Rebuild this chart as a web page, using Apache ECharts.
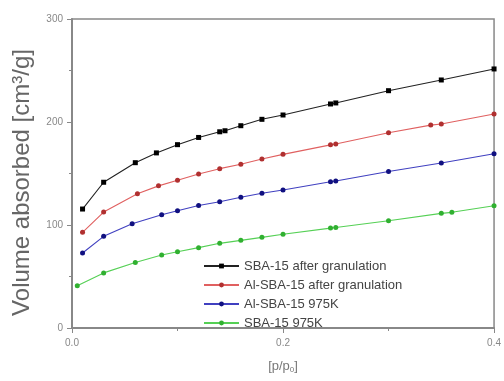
<!DOCTYPE html>
<html>
<head>
<meta charset="utf-8">
<script src="https://cdn.jsdelivr.net/npm/echarts@6/dist/echarts.min.js"></script>
<style>
  html, body { margin: 0; padding: 0; background: #fff; }
  #chart { width: 504px; height: 381px; }
</style>
</head>
<body>
<div id="chart"></div>
<script>
// relative pressure p/p0 and adsorbed volume per sample
var xBlack = [0.01, 0.03, 0.06, 0.08, 0.10, 0.12, 0.14, 0.145, 0.16, 0.18, 0.20, 0.245, 0.25, 0.30, 0.35, 0.40];
var yBlack = [115.5, 141.5, 160.5, 170, 178, 185, 190.5, 191.5, 196.4, 202.6, 206.8, 217.5, 218.5, 230.4, 240.8, 251.5];

var xRed = [0.01, 0.03, 0.062, 0.082, 0.10, 0.12, 0.14, 0.16, 0.18, 0.20, 0.245, 0.25, 0.30, 0.34, 0.35, 0.40];
var yRed = [92.9, 112.6, 130.4, 138, 143.4, 149.5, 154.7, 159, 164, 168.6, 177.8, 178.6, 189.6, 197, 198, 207.8];

var xBlue = [0.01, 0.03, 0.057, 0.085, 0.10, 0.12, 0.14, 0.16, 0.18, 0.20, 0.245, 0.25, 0.30, 0.35, 0.40];
var yBlue = [72.8, 89, 101.3, 110, 113.9, 119, 122.6, 126.9, 130.8, 134, 142, 142.7, 152, 160.2, 169.2];

var xGreen = [0.005, 0.03, 0.06, 0.085, 0.10, 0.12, 0.14, 0.16, 0.18, 0.20, 0.245, 0.25, 0.30, 0.35, 0.36, 0.40];
var yGreen = [41, 53.5, 63.5, 70.8, 74.1, 78, 82.2, 85.1, 88, 91, 97, 97.6, 104.2, 111.3, 112.3, 118.7];

var names = ['SBA-15 after granulation', 'Al-SBA-15 after granulation', 'Al-SBA-15 975K', 'SBA-15 975K'];

function pairs(xs, ys) {
  var out = [];
  for (var i = 0; i < xs.length; i++) out.push([xs[i], ys[i]]);
  return out;
}

function mkSeries(name, xs, ys, lineColor, dotColor, symbol) {
  return {
    name: name,
    type: 'line',
    data: pairs(xs, ys),
    symbol: symbol,
    symbolSize: 5,
    showSymbol: true,
    lineStyle: { color: lineColor, width: 1.1 },
    itemStyle: { color: dotColor },
    emphasis: { disabled: true },
    animation: false
  };
}

var chart = echarts.init(document.getElementById('chart'));
var axisGray = '#888';
var option = {
  animation: false,
  grid: {
    left: 72, right: 9, top: 19, bottom: 53,
    show: true, borderColor: axisGray, borderWidth: 1.5
  },
  legend: {
    orient: 'vertical',
    left: 198, top: 254,
    itemWidth: 35, itemHeight: 6, itemGap: 5,
    textStyle: { fontFamily: 'Liberation Sans', fontSize: 13, color: '#444', lineHeight: 14 },
    data: names
  },
  xAxis: {
    type: 'value', min: 0, max: 0.4, interval: 0.2,
    name: '[p/p{s|0}]', nameLocation: 'middle', nameGap: 31,
    nameTextStyle: {
      fontFamily: 'Liberation Sans', fontSize: 13, color: '#777',
      rich: { s: { fontSize: 8, verticalAlign: 'bottom', padding: [7, 0, 0, 0], color: '#777' } }
    },
    axisLine: { lineStyle: { color: axisGray, width: 2 } },
    axisTick: { length: 5, lineStyle: { color: axisGray } },
    minorTick: { show: true, splitNumber: 2, length: 3, lineStyle: { color: axisGray } },
    axisLabel: { margin: 10, fontFamily: 'Liberation Sans', fontSize: 10, color: '#888',
      formatter: function (v) { return v.toFixed(1); } },
    splitLine: { show: false }
  },
  yAxis: {
    type: 'value', min: 0, max: 300, interval: 100,
    name: 'Volume absorbed [cm³/g]', nameLocation: 'middle', nameGap: 38,
    nameTextStyle: { fontFamily: 'Liberation Sans', fontSize: 24, color: '#666', padding: [0, 18, 0, 0] },
    axisLine: { lineStyle: { color: axisGray, width: 2 } },
    axisTick: { length: 5, lineStyle: { color: axisGray } },
    minorTick: { show: true, splitNumber: 2, length: 3, lineStyle: { color: axisGray } },
    axisLabel: { margin: 9, fontFamily: 'Liberation Sans', fontSize: 10, color: '#888' },
    splitLine: { show: false }
  },
  series: [
    mkSeries(names[0], xBlack, yBlack, '#222', '#000', 'rect'),
    mkSeries(names[1], xRed, yRed, '#e06060', '#b03030', 'circle'),
    mkSeries(names[2], xBlue, yBlue, '#4040c0', '#101080', 'circle'),
    mkSeries(names[3], xGreen, yGreen, '#55d055', '#30b030', 'circle')
  ]
};
chart.setOption(option);
</script>
</body>
</html>
